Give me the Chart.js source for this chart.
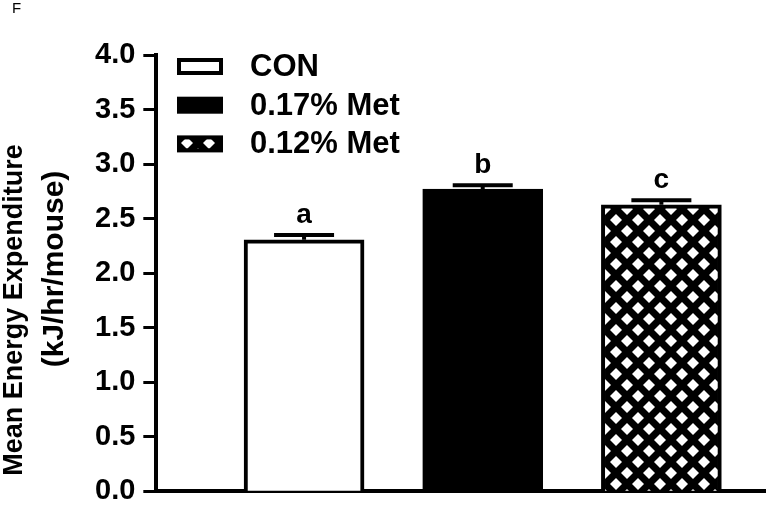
<!DOCTYPE html>
<html>
<head>
<meta charset="utf-8">
<script src="https://cdn.jsdelivr.net/npm/chart.js@4.4.1/dist/chart.umd.min.js"></script>
<style>
  html, body { margin: 0; padding: 0; background: #fff; }
  #wrap { width: 767px; height: 505px; position: relative; }
</style>
</head>
<body>
<div id="wrap"><canvas id="chart"></canvas></div>
<script>
// data
const groups = ['CON', '0.17% Met', '0.12% Met'];
const groupPos = [1, 2, 3];
const means = [2.305, 2.77, 2.626];
const sems = [0.045, 0.035, 0.041];
const letters = ['a', 'b', 'c'];
const yTicks = [0.0, 0.5, 1.0, 1.5, 2.0, 2.5, 3.0, 3.5, 4.0];
const yTitle = ['Mean Energy Expenditure', '(kJ/hr/mouse)'];

const FONT = '"Liberation Sans", Arial, sans-serif';
Chart.defaults.font.family = FONT;
Chart.defaults.color = '#000';

const canvas = document.getElementById('chart');

function crossHatch() {
    let c = document.createElement('canvas');
    c.width = 22; c.height = 22;
    let g = c.getContext('2d');
    g.fillStyle = '#000';
    g.fillRect(0, 0, 22, 22);
    g.fillStyle = '#fff';
    const r = 6;
    [[11, 11], [0, 0], [22, 0], [0, 22], [22, 22]].forEach(([x, y]) => {
        g.beginPath();
        g.moveTo(x, y - r); g.lineTo(x + r, y); g.lineTo(x, y + r); g.lineTo(x - r, y);
        g.closePath();
        g.fill();
    });
    return canvas.getContext('2d').createPattern(c, 'repeat');
}

const fills = ['#ffffff', '#000000', crossHatch()];

// error bars (upper only) + significance letters
const errorBars = {
    id: 'errorBars',
    afterDatasetsDraw(chart) {
        const {ctx} = chart;
        const y = chart.scales.y;
        ctx.save();
        ctx.strokeStyle = '#000';
        ctx.fillStyle = '#000';
        ctx.lineWidth = 4;
        ctx.font = 'bold 28px ' + FONT;
        ctx.textAlign = 'center';
        ctx.textBaseline = 'alphabetic';
        chart.data.datasets.forEach((ds, i) => {
            const bar = chart.getDatasetMeta(i).data[0];
            const top = y.getPixelForValue(means[i] + sems[i]);
            ctx.beginPath();
            ctx.moveTo(bar.x, bar.y);
            ctx.lineTo(bar.x, top);
            ctx.moveTo(bar.x - 30, top);
            ctx.lineTo(bar.x + 30, top);
            ctx.stroke();
            ctx.fillText(letters[i], bar.x, top - 12);
        });
        ctx.restore();
    }
};

// legend inside the plot, top left
const insideLegend = {
    id: 'insideLegend',
    afterDraw(chart) {
        const {ctx} = chart;
        ctx.save();
        ctx.font = 'bold 31px ' + FONT;
        ctx.textBaseline = 'middle';
        ctx.textAlign = 'left';
        chart.data.datasets.forEach((ds, i) => {
            const cy = 66.5 + i * 38.7;
            ctx.fillStyle = ds.backgroundColor;
            ctx.fillRect(179, cy - 6.5, 42, 13);
            ctx.strokeStyle = '#000';
            ctx.lineWidth = 4;
            ctx.strokeRect(179, cy - 6.5, 42, 13);
            ctx.fillStyle = '#000';
            ctx.fillText(ds.label, 250, cy + 1);
        });
        ctx.restore();
    }
};

// y title (two lines, placed like the figure) and panel letter
const labels = {
    id: 'labels',
    afterDraw(chart) {
        const {ctx} = chart;
        ctx.save();
        ctx.fillStyle = '#000';
        ctx.font = '15px ' + FONT;
        ctx.textBaseline = 'alphabetic';
        ctx.fillText('F', 12, 13);

        ctx.textAlign = 'center';
        ctx.textBaseline = 'middle';
        [[yTitle[0], 15, 310, 27], [yTitle[1], 55, 269, 30]].forEach(([t, x, y, size]) => {
            ctx.save();
            ctx.translate(x, y);
            ctx.rotate(-Math.PI / 2);
            ctx.font = 'bold ' + size + 'px ' + FONT;
            ctx.fillText(t, 0, 0);
            ctx.restore();
        });
        ctx.restore();
    }
};

new Chart(canvas, {
    type: 'bar',
    data: {
        datasets: groups.map((g, i) => ({
            label: g,
            data: [{x: groupPos[i], y: means[i]}],
            backgroundColor: fills[i],
            borderColor: '#000',
            borderWidth: 4,
            borderSkipped: 'start',
            barThickness: 120,
            grouped: false
        }))
    },
    options: {
        responsive: true,
        maintainAspectRatio: false,
        devicePixelRatio: 1,
        animation: false,
        layout: {padding: {left: 87, right: 2, top: 55, bottom: 12}},
        plugins: {
            tooltip: {enabled: false},
            legend: {display: false}
        },
        scales: {
            x: {
                type: 'linear',
                offset: false,
                min: 0.173,
                max: 3.58,
                ticks: {display: false},
                grid: {display: false, drawTicks: false},
                border: {display: true, color: '#000', width: 4}
            },
            y: {
                min: 0,
                max: 4,
                afterBuildTicks: (s) => { s.ticks = yTicks.map(v => ({value: v})); },
                ticks: {
                    color: '#000',
                    padding: 8,
                    font: {size: 29, weight: 'bold', lineHeight: 0.4},
                    callback: (v) => Number(v).toFixed(1)
                },
                grid: {drawOnChartArea: false, drawTicks: true, tickLength: 13, tickWidth: 3, tickColor: '#000'},
                border: {display: true, color: '#000', width: 4},
                title: {display: false}
            }
        }
    },
    plugins: [errorBars, insideLegend, labels]
});
</script>
</body>
</html>
